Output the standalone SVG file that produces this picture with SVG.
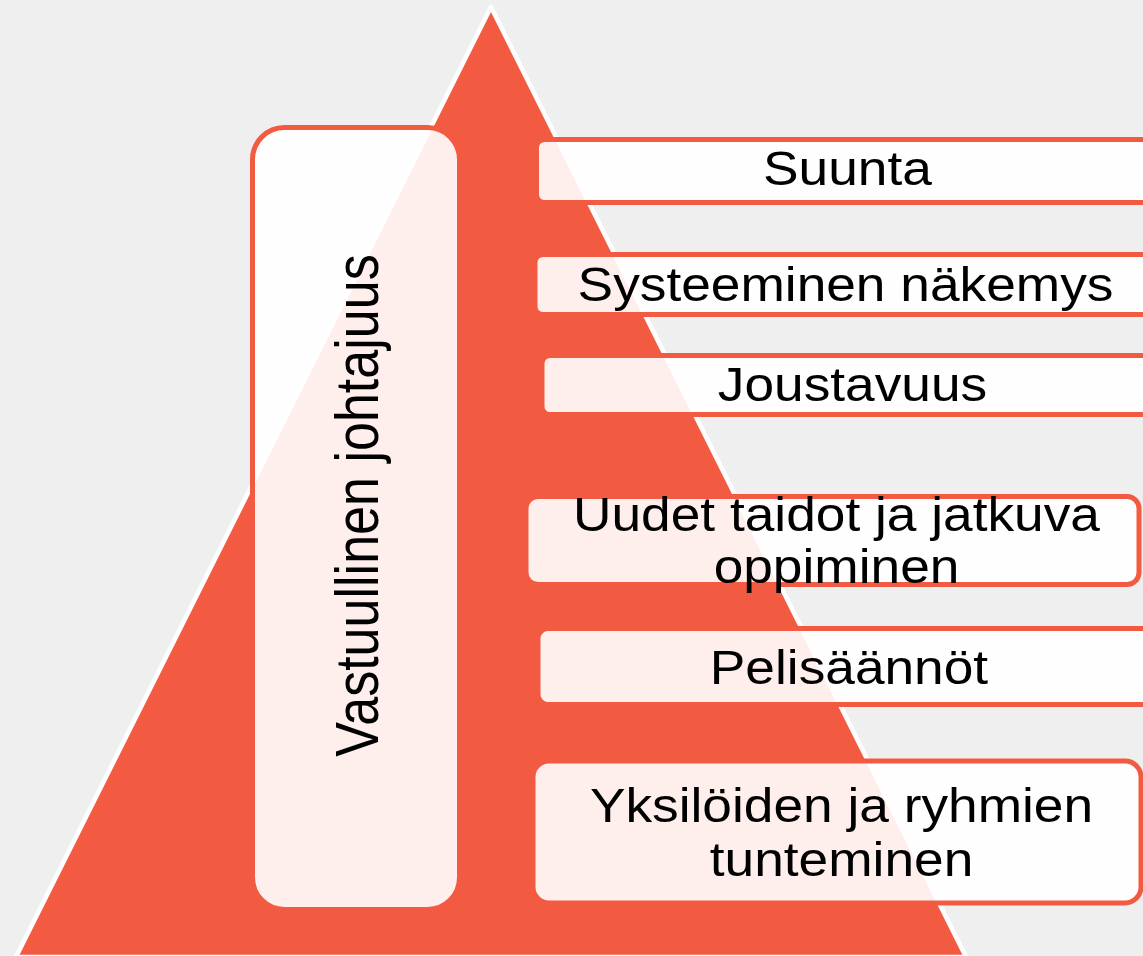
<svg xmlns="http://www.w3.org/2000/svg" width="1143" height="956" viewBox="0 0 1143 956">
<style>
.bg{fill:#EFEFEF}
.tri{fill:#F25A42;stroke:#FFFFFF;stroke-width:4.5;stroke-linejoin:round}
.box{fill:#FFFFFF;fill-opacity:0.9;stroke:#F25A42;stroke-width:5}
.t{font-family:"Liberation Sans",Arial,sans-serif;font-size:48px;fill:#000000;text-anchor:middle}
</style>
<rect class="bg" x="0" y="0" width="1143" height="956"/>
<g id="pyramid">
<polygon class="tri" points="491,7 16,957 966,957"/>
</g>
<g id="connectors"></g>
<g id="node-vastuullinen">
<rect class="box" x="252.5" y="127.5" width="207" height="782" rx="32"/>
<text class="t" transform="translate(378,505.5) rotate(-90) scale(1.084,1.28)">Vastuullinen johtajuus</text>
</g>
<g id="node-suunta">
<rect class="box" x="536.5" y="139.5" width="640" height="63" rx="8"/>
<text class="t" transform="translate(847.5,185) scale(1.11,1)">Suunta</text>
</g>
<g id="node-systeeminen">
<rect class="box" x="535" y="254.5" width="640" height="60" rx="8"/>
<text class="t" transform="translate(845.5,301) scale(1.11,1)">Systeeminen näkemys</text>
</g>
<g id="node-joustavuus">
<rect class="box" x="542" y="355.5" width="640" height="59" rx="8"/>
<text class="t" transform="translate(852.5,401) scale(1.11,1)">Joustavuus</text>
</g>
<g id="node-uudet">
<rect class="box" x="526" y="496.5" width="613" height="88" rx="12"/>
<text class="t" transform="translate(836.5,531) scale(1.11,1)">Uudet taidot ja jatkuva</text>
<text class="t" transform="translate(836.5,583) scale(1.11,1)">oppiminen</text>
</g>
<g id="node-pelisaannot">
<rect class="box" x="538" y="628.5" width="640" height="76" rx="10"/>
<text class="t" transform="translate(849,684) scale(1.11,1)">Pelisäännöt</text>
</g>
<g id="node-yksiloiden">
<rect class="box" x="533" y="761" width="608" height="142" rx="16"/>
<text class="t" transform="translate(841.5,822) scale(1.11,1)">Yksilöiden ja ryhmien</text>
<text class="t" transform="translate(841.5,876) scale(1.11,1)">tunteminen</text>
</g>
</svg>
